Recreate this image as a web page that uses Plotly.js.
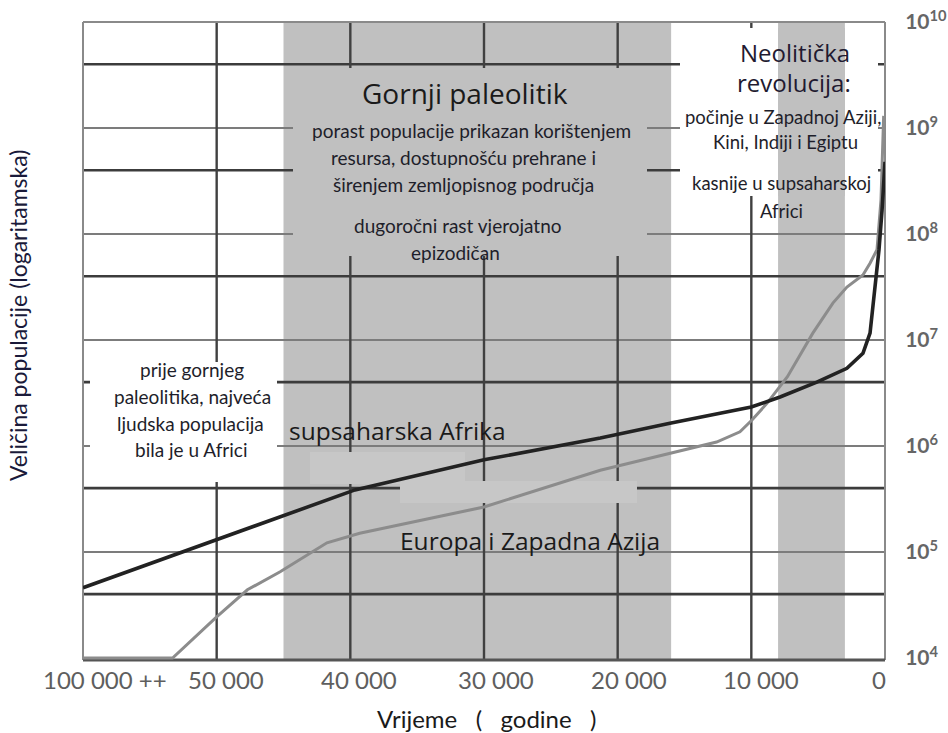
<!DOCTYPE html>
<html><head><meta charset="utf-8">
<script src="https://cdn.plot.ly/plotly-3.0.1.min.js"></script>
<style>html,body{margin:0;padding:0;background:#fff}#chart{width:948px;height:733px}</style>
</head><body><div id="chart"></div>
<script>
// ---- data ----
const africaYears = [60000, 50000, 39650, 30000, 21300, 16000, 10000, 7850, 5100, 2850, 1650, 1120, 750, 450, 220, 0];
const africaPop   = [4.6e4, 1.3e5, 3.85e5, 7.4e5, 1.19e6, 1.65e6, 2.33e6, 2.9e6, 4.0e6, 5.4e6, 7.5e6, 1.16e7, 2.97e7, 7.1e7, 1.68e8, 4.8e8];
const europeYears = [60000, 53300, 50000, 47700, 45250, 41750, 39300, 30000, 21300, 15900, 12600, 10850, 9950, 8800, 7300, 5400, 3900, 2850, 1650, 1120, 600, 300, 100];
const europePop   = [1.0e4, 1.0e4, 2.44e4, 4.4e4, 6.5e4, 1.22e5, 1.5e5, 2.66e5, 5.9e5, 8.6e5, 1.09e6, 1.36e6, 1.76e6, 2.55e6, 4.5e6, 1.16e7, 2.23e7, 3.16e7, 4.1e7, 5.3e7, 7.1e7, 2.1e8, 1.3e9];
const bandStart = [45000, 8000];
const bandEnd   = [16000, 3000];
const xGridVals = [50000, 40000, 30000, 20000, 10000];
const xTickVals = [60000, 50000, 40000, 30000, 20000, 10000, 0];
const xTickText = ['100 000 ++', '50 000', '40 000', '30 000', '20 000', '10 000', '0'];
const yDecades  = [1e4, 1e5, 1e6, 1e7, 1e8, 1e9, 1e10];
const yTickText = ['<b>10<sup>4</sup></b>','<b>10<sup>5</sup></b>','<b>10<sup>6</sup></b>','<b>10<sup>7</sup></b>','<b>10<sup>8</sup></b>','<b>10<sup>9</sup></b>','<b>10<sup>10</sup></b>'];
const yMinorThick = [4e4, 4e5, 4e6, 4e7, 4e8, 4e9];

// ---- geometry helpers (layout only) ----
const L = 83, R = 885, T = 22, B = 660;
const YR = [3.981, 10];
const px2px = px => (px - L) / (R - L);
const py2py = py => (B - py) / (B - T);
const v2py = v => (Math.log10(v) - YR[0]) / (YR[1] - YR[0]);
const xTickShift = [22, 9, 9, 12, 11, 10, -6];

const BAND = '#c0c0c0';
const shapes = [];
bandStart.forEach((s, i) => shapes.push({type:'rect', layer:'below', xref:'x', yref:'paper', x0:s, x1:bandEnd[i], y0:0, y1:1, fillcolor:BAND, line:{width:0}}));
yDecades.slice(1, 6).forEach(v => shapes.push({type:'line', layer:'below', xref:'paper', yref:'paper', x0:0, x1:1, y0:v2py(v), y1:v2py(v), line:{color:'#7c7c7c', width:2}}));
yMinorThick.forEach(v => shapes.push({type:'line', layer:'below', xref:'paper', yref:'paper', x0:0, x1:1, y0:v2py(v), y1:v2py(v), line:{color:'#3c3c3c', width:2.6}}));
xGridVals.forEach(v => shapes.push({type:'line', layer:'below', xref:'x', yref:'paper', x0:v, x1:v, y0:0, y1:1, line:{color:'#404040', width:2.4}}));
function box(x0, x1, y0, y1, c) {
  shapes.push({type:'rect', layer:'below', xref:'paper', yref:'paper', x0:px2px(x0), x1:px2px(x1), y0:py2py(y1), y1:py2py(y0), fillcolor:c, line:{width:0}});
}
box(293, 647, 68, 256, BAND);
box(680, 878, 28, 196, '#ffffff');
box(778, 845, 28, 196, BAND);
box(90, 277, 362, 482, '#ffffff');
box(310, 465, 452, 484, '#c7c7c7');
box(400, 637, 481, 503, '#c7c7c7');
shapes.push({type:'line', layer:'below', xref:'paper', yref:'paper', x0:0, x1:1, y0:1, y1:1, line:{color:'#8a8a8a', width:2}});
shapes.push({type:'line', layer:'below', xref:'paper', yref:'paper', x0:0, x1:0, y0:0, y1:1, line:{color:'#8a8a8a', width:2}});
shapes.push({type:'line', layer:'below', xref:'paper', yref:'paper', x0:1, x1:1, y0:0, y1:1, line:{color:'#8a8a8a', width:2}});
shapes.push({type:'line', layer:'below', xref:'paper', yref:'paper', x0:0, x1:1, y0:0, y1:0, line:{color:'#555555', width:3}});

// ---- annotations ----
const TXT = '#1e1e2a';
const ann = [];
function txt(text, px, py, size, fam, color, extra) {
  ann.push(Object.assign({text:text, xref:'paper', yref:'paper', x:px2px(px), y:py2py(py), xanchor:'center', yanchor:'middle', showarrow:false, font:{family:fam, size:size, color:color||TXT}}, extra||{}));
}
const CAL = 'Lato, "Open Sans", sans-serif';
const SEG = '"Open Sans", "Noto Sans", sans-serif';
txt('Gornji paleolitik', 465, 93, 28, SEG, '#1a1a1a');
txt('porast populacije prikazan korištenjem', 471, 130, 19, CAL);
txt('resursa, dostupnošću prehrane i', 463, 157, 19, CAL);
txt('širenjem zemljopisnog područja', 463, 184, 19, CAL);
txt('dugoročni rast vjerojatno', 458, 225, 19, CAL);
txt('epizodičan', 455, 252, 19, CAL);
txt('Neolitička', 795, 52, 24, SEG, '#221a30');
txt('revolucija:', 794, 82, 24, SEG, '#221a30');
txt('počinje u Zapadnoj Aziji,', 783, 117, 18.5, CAL);
txt('Kini, Indiji i Egiptu', 785, 142, 18.5, CAL);
txt('kasnije u supsaharskoj', 781, 183, 18.5, CAL);
txt('Africi', 781, 211, 18.5, CAL);
txt('prije gornjeg', 192, 369, 19, CAL);
txt('paleolitika, najveća', 192, 396, 19, CAL);
txt('ljudska populacija', 190, 423, 19, CAL);
txt('bila je u Africi', 191, 449, 19, CAL);
txt('supsaharska Afrika', 397, 430, 24.5, SEG, '#1a1a1a');
txt('Europa i Zapadna Azija', 530, 540, 24.5, SEG, '#1a1a1a');
txt('Veličina populacije (logaritamska)', 18, 316, 23, CAL, '#1a1a3a', {textangle:-90});
txt('Vrijeme   (   godine   )', 487, 718, 24, CAL, '#1a1a1a');
xTickVals.forEach((v, i) => ann.push({text:xTickText[i], xref:'x', yref:'paper', x:v, y:0, xanchor:'center', yanchor:'top', yshift:-3, xshift:xTickShift[i], showarrow:false, font:{family:CAL, size:24, color:'#5e5e5e'}}));

const traces = [
  {x:europeYears, y:europePop, type:'scatter', mode:'lines', line:{color:'#8c8c8c', width:3}, hoverinfo:'skip'},
  {x:africaYears, y:africaPop, type:'scatter', mode:'lines', line:{color:'#222222', width:3.6}, hoverinfo:'skip'}
];

const layout = {
  width:948, height:733,
  margin:{l:L, r:948-R, t:T, b:733-B, pad:0},
  paper_bgcolor:'#ffffff', plot_bgcolor:'#ffffff',
  showlegend:false,
  xaxis:{range:[60000, 0], showgrid:false, zeroline:false, showline:false, showticklabels:false, ticks:'', fixedrange:true},
  yaxis:{type:'log', range:YR, side:'right', tickvals:yDecades, ticktext:yTickText, showgrid:false, zeroline:false, showline:false,
         ticks:'outside', ticklen:15, tickcolor:'rgba(0,0,0,0)', tickfont:{family:CAL, size:21, color:'#666666'}, fixedrange:true},
  shapes:shapes,
  annotations:ann
};
Plotly.newPlot('chart', traces, layout, {displayModeBar:false, staticPlot:true});
</script>
</body></html>
